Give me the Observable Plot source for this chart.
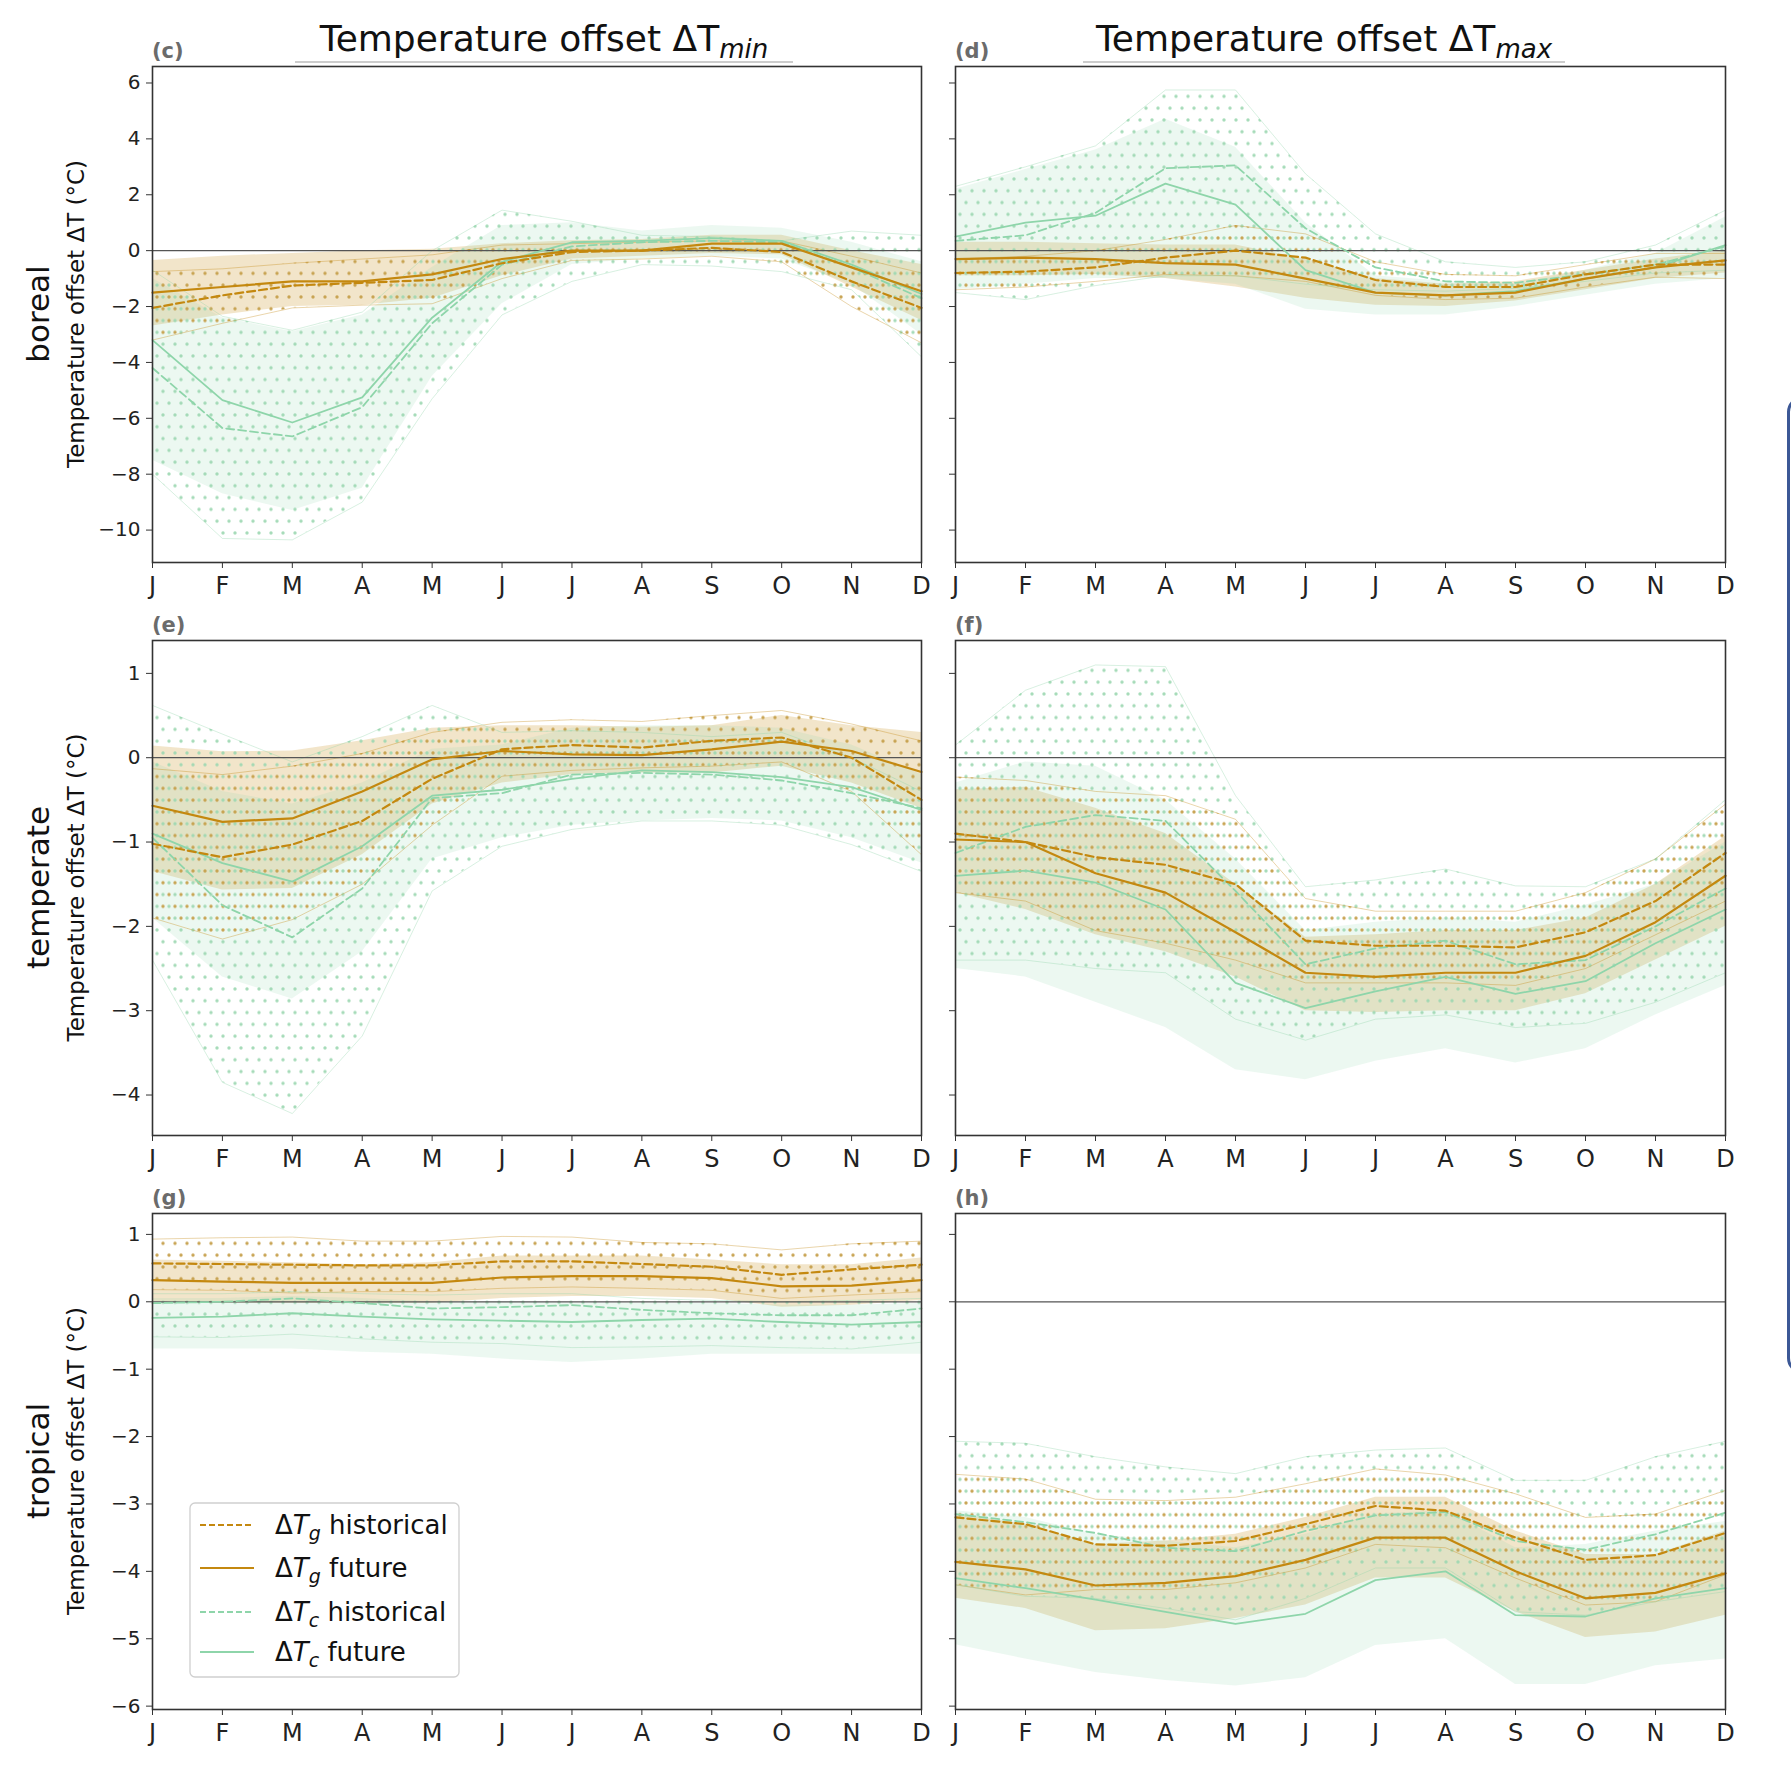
<!DOCTYPE html>
<html>
<head>
<meta charset="utf-8">
<script src="https://cdn.jsdelivr.net/npm/d3@7"></script>
<script src="https://cdn.jsdelivr.net/npm/@observablehq/plot@0.6"></script>
<style>
  html, body { margin: 0; padding: 0; background: #fff; }
  body { width: 1791px; height: 1770px; position: relative; overflow: hidden; font-family: "DejaVu Sans", sans-serif; }
  .panel { position: absolute; }
  #overlay { position: absolute; left: 0; top: 0; pointer-events: none; }
  #blueedge { position: absolute; left: 1787px; top: 396px; width: 60px; height: 972px; border: 3px solid #3c5896; border-radius: 16px; }
</style>
</head>
<body>
<svg width="0" height="0" style="position:absolute">
  <defs>
    <pattern id="dotB" patternUnits="userSpaceOnUse" width="12" height="23.6">
      <circle cx="3" cy="3" r="1.7" fill="#c6a04c" fill-opacity="0.95"/>
      <circle cx="9" cy="14.8" r="1.7" fill="#c6a04c" fill-opacity="0.95"/>
    </pattern>
    <pattern id="dotG" patternUnits="userSpaceOnUse" width="12" height="23.6">
      <circle cx="9" cy="3" r="1.7" fill="#9dd8b2" fill-opacity="0.9"/>
      <circle cx="3" cy="14.8" r="1.7" fill="#9dd8b2" fill-opacity="0.9"/>
    </pattern>
  </defs>
</svg>
<div id="blueedge"></div>
<div id="root"></div>
<script>
const months = ["J","F","M","A","M","J","J","A","S","O","N","D"];

// ---- panel (c): boreal, ΔTmin ----
const c_tg_hist    = [-2.05,-1.6,-1.25,-1.15,-1.05,-0.45,-0.05,0.0,0.1,-0.05,-1.1,-2.05];
const c_tg_hist_lo = [-3.2,-2.6,-2.05,-1.95,-1.9,-1.0,-0.35,-0.3,-0.2,-0.4,-2.0,-3.3];
const c_tg_hist_hi = [-0.75,-0.65,-0.45,-0.3,-0.15,0.2,0.25,0.3,0.35,0.35,-0.2,-0.8];
const c_tg_fut     = [-1.5,-1.3,-1.1,-1.1,-0.85,-0.3,0.0,0.0,0.25,0.25,-0.6,-1.45];
const c_tg_fut_lo  = [-2.7,-2.3,-2.0,-1.95,-1.7,-0.9,-0.3,-0.2,-0.1,-0.15,-1.3,-2.5];
const c_tg_fut_hi  = [-0.35,-0.2,-0.1,0.0,0.05,0.25,0.35,0.4,0.55,0.55,0.0,-0.5];
const c_tc_hist    = [-4.2,-6.35,-6.65,-5.6,-2.6,-0.5,0.15,0.3,0.35,0.3,-0.6,-1.7];
const c_tc_hist_lo = [-8.0,-10.3,-10.35,-9.0,-5.3,-2.3,-1.1,-0.5,-0.55,-0.75,-1.4,-3.8];
const c_tc_hist_hi = [-0.7,-2.35,-2.85,-2.2,0.0,1.45,1.05,0.55,0.5,0.35,0.7,0.55];
const c_tc_fut     = [-3.2,-5.35,-6.15,-5.25,-2.4,-0.4,0.3,0.35,0.45,0.35,-0.5,-1.55];
const c_tc_fut_lo  = [-7.5,-8.7,-9.3,-8.5,-4.5,-1.9,-0.5,-0.3,-0.2,-0.3,-1.2,-3.0];
const c_tc_fut_hi  = [-1.0,-2.4,-2.9,-2.3,-0.6,0.9,1.0,0.7,0.9,0.8,0.3,-0.4];

// ---- panel (d): boreal, ΔTmax ----
const d_tg_hist    = [-0.8,-0.75,-0.6,-0.25,0.0,-0.25,-1.05,-1.3,-1.3,-0.85,-0.5,-0.5];
const d_tg_hist_lo = [-1.4,-1.3,-1.1,-0.85,-0.9,-1.1,-1.6,-1.75,-1.7,-1.3,-0.95,-1.0];
const d_tg_hist_hi = [-0.3,-0.2,0.0,0.4,0.9,0.6,-0.4,-0.85,-0.9,-0.5,-0.1,-0.1];
const d_tg_fut     = [-0.3,-0.25,-0.3,-0.45,-0.5,-1.0,-1.5,-1.6,-1.5,-1.0,-0.6,-0.35];
const d_tg_fut_lo  = [-0.9,-0.9,-0.85,-1.0,-1.3,-1.7,-1.95,-2.0,-1.8,-1.4,-1.0,-0.8];
const d_tg_fut_hi  = [0.3,0.3,0.25,0.2,0.2,-0.3,-1.0,-1.2,-1.1,-0.7,-0.3,0.0];
const d_tc_hist    = [0.35,0.55,1.35,2.95,3.05,0.8,-0.6,-1.1,-1.15,-0.85,-0.5,0.15];
const d_tc_hist_lo = [-1.5,-1.75,-1.25,-0.9,-0.9,-1.2,-1.4,-1.45,-1.35,-1.1,-0.8,-0.7];
const d_tc_hist_hi = [2.3,3.0,3.75,5.75,5.75,2.75,0.6,-0.4,-0.6,-0.4,0.2,1.45];
const d_tc_fut     = [0.5,1.0,1.25,2.4,1.65,-0.7,-1.5,-1.6,-1.45,-1.0,-0.6,0.2];
const d_tc_fut_lo  = [-1.4,-1.2,-1.0,-1.0,-1.2,-2.1,-2.3,-2.3,-2.0,-1.6,-1.2,-1.0];
const d_tc_fut_hi  = [2.2,2.9,3.6,4.7,3.7,1.0,-0.9,-1.1,-1.2,-0.7,-0.1,1.2];

// ---- panel (e): temperate, ΔTmin ----
const e_tg_hist    = [-1.02,-1.18,-1.03,-0.75,-0.25,0.1,0.15,0.12,0.2,0.24,0.0,-0.5];
const e_tg_hist_lo = [-1.9,-2.15,-1.92,-1.5,-0.8,-0.22,-0.15,-0.12,-0.1,-0.05,-0.4,-1.15];
const e_tg_hist_hi = [-0.13,-0.2,-0.1,0.05,0.3,0.42,0.45,0.43,0.5,0.56,0.4,0.2];
const e_tg_fut     = [-0.57,-0.76,-0.72,-0.4,-0.02,0.08,0.04,0.03,0.1,0.19,0.08,-0.17];
const e_tg_fut_lo  = [-1.35,-1.57,-1.55,-1.15,-0.55,-0.3,-0.2,-0.18,-0.18,-0.1,-0.3,-0.6];
const e_tg_fut_hi  = [0.14,0.07,0.08,0.2,0.35,0.38,0.38,0.36,0.38,0.5,0.38,0.3];
const e_tc_hist    = [-0.95,-1.75,-2.13,-1.55,-0.48,-0.42,-0.2,-0.18,-0.2,-0.27,-0.42,-0.6];
const e_tc_hist_lo = [-2.4,-3.85,-4.22,-3.3,-1.58,-1.05,-0.85,-0.75,-0.75,-0.8,-1.03,-1.35];
const e_tc_hist_hi = [0.62,0.28,-0.05,0.25,0.62,0.3,0.32,0.3,0.25,0.3,0.0,-0.4];
const e_tc_fut     = [-0.9,-1.25,-1.47,-1.05,-0.45,-0.38,-0.25,-0.15,-0.17,-0.23,-0.35,-0.62];
const e_tc_fut_lo  = [-1.9,-2.6,-2.86,-2.3,-1.2,-0.95,-0.8,-0.75,-0.72,-0.75,-0.95,-1.25];
const e_tc_fut_hi  = [-0.05,-0.4,-0.55,-0.3,0.1,0.15,0.35,0.38,0.38,0.35,0.15,-0.2];

// ---- panel (f): temperate, ΔTmax ----
const f_tg_hist    = [-0.9,-1.0,-1.18,-1.27,-1.5,-2.17,-2.23,-2.23,-2.25,-2.07,-1.7,-1.13];
const f_tg_hist_lo = [-1.6,-1.7,-2.05,-2.2,-2.4,-2.67,-2.67,-2.67,-2.7,-2.5,-2.1,-1.7];
const f_tg_hist_hi = [-0.23,-0.27,-0.4,-0.45,-0.73,-1.67,-1.82,-1.82,-1.82,-1.6,-1.2,-0.55];
const f_tg_fut     = [-0.97,-1.0,-1.37,-1.6,-2.07,-2.55,-2.6,-2.55,-2.55,-2.35,-1.95,-1.4];
const f_tg_fut_lo  = [-1.6,-1.8,-2.1,-2.3,-2.6,-3.0,-3.02,-3.0,-3.0,-2.8,-2.4,-2.0];
const f_tg_fut_hi  = [-0.38,-0.35,-0.6,-0.9,-1.5,-2.13,-2.1,-2.05,-2.05,-1.9,-1.5,-0.93];
const f_tc_hist    = [-1.13,-0.82,-0.68,-0.75,-1.58,-2.45,-2.26,-2.17,-2.45,-2.4,-2.0,-1.55];
const f_tc_hist_lo = [-2.4,-2.4,-2.5,-2.55,-3.1,-3.35,-3.1,-3.05,-3.2,-3.15,-2.9,-2.55];
const f_tc_hist_hi = [0.15,0.8,1.1,1.08,-0.45,-1.53,-1.45,-1.32,-1.52,-1.53,-1.2,-0.5];
const f_tc_fut     = [-1.4,-1.34,-1.48,-1.8,-2.67,-2.97,-2.77,-2.6,-2.8,-2.65,-2.2,-1.8];
const f_tc_fut_lo  = [-2.5,-2.6,-2.9,-3.2,-3.7,-3.82,-3.6,-3.45,-3.62,-3.45,-3.05,-2.7];
const f_tc_fut_hi  = [-0.3,-0.05,-0.1,-0.5,-1.2,-2.05,-1.95,-1.9,-1.95,-1.75,-1.5,-1.0];

// ---- panel (g): tropical, ΔTmin ----
const g_tg_hist    = [0.57,0.56,0.55,0.54,0.54,0.6,0.6,0.56,0.52,0.4,0.48,0.55];
const g_tg_hist_lo = [0.18,0.17,0.13,0.15,0.15,0.2,0.22,0.2,0.17,0.05,0.1,0.15];
const g_tg_hist_hi = [0.93,0.95,0.96,0.9,0.9,0.97,0.96,0.88,0.86,0.77,0.86,0.9];
const g_tg_fut     = [0.32,0.3,0.28,0.28,0.28,0.36,0.38,0.38,0.35,0.23,0.24,0.32];
const g_tg_fut_lo  = [0.0,-0.02,-0.02,-0.03,-0.02,0.05,0.08,0.08,0.05,-0.08,-0.05,0.02];
const g_tg_fut_hi  = [0.62,0.6,0.58,0.55,0.58,0.68,0.68,0.68,0.62,0.55,0.55,0.65];
const g_tc_hist    = [-0.02,0.0,0.05,-0.02,-0.1,-0.08,-0.05,-0.12,-0.17,-0.2,-0.2,-0.1];
const g_tc_hist_lo = [-0.52,-0.53,-0.48,-0.55,-0.6,-0.62,-0.68,-0.67,-0.65,-0.68,-0.7,-0.6];
const g_tc_hist_hi = [0.12,0.12,0.15,0.12,0.1,0.12,0.12,0.05,0.02,0.0,0.02,0.05];
const g_tc_fut     = [-0.24,-0.22,-0.17,-0.22,-0.26,-0.28,-0.3,-0.27,-0.25,-0.3,-0.34,-0.3];
const g_tc_fut_lo  = [-0.7,-0.7,-0.7,-0.75,-0.78,-0.85,-0.9,-0.85,-0.78,-0.78,-0.78,-0.78];
const g_tc_fut_hi  = [0.05,0.05,0.08,0.05,0.0,0.0,-0.02,-0.02,-0.02,-0.05,-0.05,-0.02];

// ---- panel (h): tropical, ΔTmax ----
const h_tg_hist    = [-3.2,-3.3,-3.6,-3.62,-3.55,-3.3,-3.03,-3.1,-3.5,-3.83,-3.76,-3.43];
const h_tg_hist_lo = [-4.2,-4.35,-4.27,-4.27,-4.17,-3.95,-3.6,-3.65,-4.1,-4.5,-4.45,-4.05];
const h_tg_hist_hi = [-2.56,-2.63,-2.93,-2.95,-2.9,-2.7,-2.48,-2.57,-2.85,-3.2,-3.15,-2.8];
const h_tg_fut     = [-3.86,-3.97,-4.21,-4.17,-4.07,-3.83,-3.5,-3.5,-4.0,-4.4,-4.32,-4.03];
const h_tg_fut_lo  = [-4.4,-4.55,-4.88,-4.85,-4.7,-4.5,-4.1,-4.1,-4.6,-4.98,-4.9,-4.65];
const h_tg_fut_hi  = [-3.15,-3.3,-3.6,-3.55,-3.45,-3.2,-2.9,-2.9,-3.4,-3.75,-3.75,-3.4];
const h_tc_hist    = [-3.15,-3.27,-3.43,-3.65,-3.7,-3.4,-3.17,-3.12,-3.55,-3.68,-3.45,-3.13];
const h_tc_hist_lo = [-4.2,-4.37,-4.4,-4.55,-4.72,-4.4,-3.95,-3.95,-4.6,-4.65,-4.45,-4.3];
const h_tc_hist_hi = [-2.07,-2.1,-2.3,-2.45,-2.55,-2.3,-2.2,-2.17,-2.65,-2.65,-2.3,-2.07];
const h_tc_fut     = [-4.1,-4.25,-4.42,-4.6,-4.78,-4.63,-4.13,-4.0,-4.65,-4.67,-4.4,-4.25];
const h_tc_fut_lo  = [-5.09,-5.3,-5.5,-5.62,-5.7,-5.58,-5.1,-5.0,-5.68,-5.68,-5.4,-5.3];
const h_tc_fut_hi  = [-3.1,-3.2,-3.45,-3.55,-3.65,-3.45,-3.15,-3.1,-3.65,-3.6,-3.4,-3.26];

// y ticks / domains per row
const row_ydomain = [[-11.16, 6.59], [-4.48, 1.39], [-6.05, 1.31]];
const row_yticks = [[-10,-8,-6,-4,-2,0,2,4,6], [-4,-3,-2,-1,0,1], [-6,-5,-4,-3,-2,-1,0,1]];
const row_names = ["boreal", "temperate", "tropical"];
const panel_letters = ["(c)","(d)","(e)","(f)","(g)","(h)"];
const legend_labels = [["g","historical"],["g","future"],["c","historical"],["c","future"]];

const BROWN = "#c4880f", GREEN = "#8ed5aa";

// layout (frame positions)
const colLeft = [152, 955], colWidth = [769, 770];
const rowTop = [66, 640, 1213], rowHeight = [496, 495, 496];
const ML = 70, MR = 16, MT = 8, MB = 48;

const panels = [
  {row:0,col:0, s:[c_tg_hist,c_tg_hist_lo,c_tg_hist_hi,c_tg_fut,c_tg_fut_lo,c_tg_fut_hi,c_tc_hist,c_tc_hist_lo,c_tc_hist_hi,c_tc_fut,c_tc_fut_lo,c_tc_fut_hi]},
  {row:0,col:1, s:[d_tg_hist,d_tg_hist_lo,d_tg_hist_hi,d_tg_fut,d_tg_fut_lo,d_tg_fut_hi,d_tc_hist,d_tc_hist_lo,d_tc_hist_hi,d_tc_fut,d_tc_fut_lo,d_tc_fut_hi]},
  {row:1,col:0, s:[e_tg_hist,e_tg_hist_lo,e_tg_hist_hi,e_tg_fut,e_tg_fut_lo,e_tg_fut_hi,e_tc_hist,e_tc_hist_lo,e_tc_hist_hi,e_tc_fut,e_tc_fut_lo,e_tc_fut_hi]},
  {row:1,col:1, s:[f_tg_hist,f_tg_hist_lo,f_tg_hist_hi,f_tg_fut,f_tg_fut_lo,f_tg_fut_hi,f_tc_hist,f_tc_hist_lo,f_tc_hist_hi,f_tc_fut,f_tc_fut_lo,f_tc_fut_hi]},
  {row:2,col:0, s:[g_tg_hist,g_tg_hist_lo,g_tg_hist_hi,g_tg_fut,g_tg_fut_lo,g_tg_fut_hi,g_tc_hist,g_tc_hist_lo,g_tc_hist_hi,g_tc_fut,g_tc_fut_lo,g_tc_fut_hi]},
  {row:2,col:1, s:[h_tg_hist,h_tg_hist_lo,h_tg_hist_hi,h_tg_fut,h_tg_fut_lo,h_tg_fut_hi,h_tc_hist,h_tc_hist_lo,h_tc_hist_hi,h_tc_fut,h_tc_fut_lo,h_tc_fut_hi]}
];

function rowsOf(mid, lo, hi) {
  return months.map((m, i) => ({i, mid: mid[i], lo: lo[i], hi: hi[i]}));
}
const fmt = d => d < 0 ? "\u2212" + (-d) : String(d);

const root = document.getElementById("root");
panels.forEach(p => {
  const [a,b,c,d,e,f,g,h,i,j,k,l] = p.s;
  const tgH = rowsOf(a,b,c), tgF = rowsOf(d,e,f), tcH = rowsOf(g,h,i), tcF = rowsOf(j,k,l);
  const w = colWidth[p.col], hgt = rowHeight[p.row];
  const chart = Plot.plot({
    width: w + ML + MR,
    height: hgt + MT + MB,
    marginLeft: ML, marginRight: MR, marginTop: MT, marginBottom: MB,
    x: {domain: [0, 11]},
    y: {domain: row_ydomain[p.row]},
    style: {fontFamily: "DejaVu Sans, sans-serif", fontSize: "20px", color: "#222", background: "transparent", overflow: "visible"},
    marks: [
      Plot.areaY(tgF, {x: "i", y1: "lo", y2: "hi", fill: BROWN, fillOpacity: 0.22, clip: true}),
      Plot.areaY(tcF, {x: "i", y1: "lo", y2: "hi", fill: GREEN, fillOpacity: 0.17, clip: true}),
      Plot.areaY(tgH, {x: "i", y1: "lo", y2: "hi", fill: "url(#dotB)", clip: true}),
      Plot.areaY(tcH, {x: "i", y1: "lo", y2: "hi", fill: "url(#dotG)", clip: true}),
      Plot.lineY(tgH, {x: "i", y: "lo", stroke: BROWN, strokeOpacity: 0.35, strokeWidth: 1, clip: true}),
      Plot.lineY(tgH, {x: "i", y: "hi", stroke: BROWN, strokeOpacity: 0.35, strokeWidth: 1, clip: true}),
      Plot.lineY(tcH, {x: "i", y: "lo", stroke: GREEN, strokeOpacity: 0.35, strokeWidth: 1, clip: true}),
      Plot.lineY(tcH, {x: "i", y: "hi", stroke: GREEN, strokeOpacity: 0.35, strokeWidth: 1, clip: true}),
      Plot.ruleY([0], {stroke: "#555", strokeWidth: 1.3}),
      Plot.lineY(tcH, {x: "i", y: "mid", stroke: GREEN, strokeWidth: 1.8, strokeDasharray: "8,4"}),
      Plot.lineY(tcF, {x: "i", y: "mid", stroke: GREEN, strokeWidth: 1.8}),
      Plot.lineY(tgH, {x: "i", y: "mid", stroke: BROWN, strokeWidth: 2.2, strokeDasharray: "8,4"}),
      Plot.lineY(tgF, {x: "i", y: "mid", stroke: BROWN, strokeWidth: 2.2}),
      Plot.frame({stroke: "#333", strokeWidth: 1.6}),
      Plot.axisX({ticks: d3.range(12), tickFormat: t => months[t], tickSize: 6, tickPadding: 8, label: null, stroke: "#333", fontSize: 24}),
      Plot.axisY({ticks: row_yticks[p.row], tickFormat: p.col === 0 ? fmt : () => "", tickSize: 6, tickPadding: 6, label: null, stroke: "#333", fontSize: 20})
    ]
  });
  const div = document.createElement("div");
  div.className = "panel";
  div.style.left = (colLeft[p.col] - ML) + "px";
  div.style.top = (rowTop[p.row] - MT) + "px";
  div.appendChild(chart);
  root.appendChild(div);
});

// ---- overlay texts: titles, panel letters, row labels, y labels, legend ----
const ov = d3.select("body").append("svg").attr("id", "overlay").attr("width", 1791).attr("height", 1770)
  .style("font-family", "DejaVu Sans, sans-serif");

const titles = [{x: 544, sub: "min", l: 295, r: 793}, {x: 1324, sub: "max", l: 1083, r: 1565}];
titles.forEach(t => {
  const tx = ov.append("text").attr("x", t.x).attr("y", 51).attr("text-anchor", "middle")
    .attr("font-size", 36).attr("fill", "#111");
  tx.append("tspan").text("Temperature offset \u0394T");
  tx.append("tspan").attr("font-style", "italic").attr("font-size", 26).attr("dy", 7).text(t.sub);
  ov.append("line").attr("x1", t.l).attr("x2", t.r).attr("y1", 62).attr("y2", 62)
    .attr("stroke", "#9a9a9a").attr("stroke-width", 1.2);
});

panels.forEach((p, idx) => {
  ov.append("text").attr("x", colLeft[p.col]).attr("y", rowTop[p.row] - 8)
    .attr("font-size", 21).attr("font-weight", "bold").attr("fill", "#6b6b6b").text(panel_letters[idx]);
});

row_names.forEach((name, r) => {
  const cy = rowTop[r] + rowHeight[r] / 2;
  ov.append("text").attr("transform", `translate(49,${cy}) rotate(-90)`).attr("text-anchor", "middle")
    .attr("font-size", 31).attr("fill", "#111").text(name);
  ov.append("text").attr("transform", `translate(84,${cy}) rotate(-90)`).attr("text-anchor", "middle")
    .attr("font-size", 23).attr("fill", "#111").text("Temperature offset \u0394T (\u00b0C)");
});

// legend in panel (g)
const lg = ov.append("g");
lg.append("rect").attr("x", 190).attr("y", 1503).attr("width", 269).attr("height", 174).attr("rx", 5)
  .attr("fill", "#fff").attr("fill-opacity", 0.85).attr("stroke", "#cfcfcf").attr("stroke-width", 1.3);
const legY = [1525, 1568, 1612, 1652];
legend_labels.forEach((lab, i) => {
  const col = lab[0] === "g" ? BROWN : GREEN;
  lg.append("line").attr("x1", 200).attr("x2", 254).attr("y1", legY[i]).attr("y2", legY[i])
    .attr("stroke", col).attr("stroke-width", lab[0] === "g" ? 2 : 1.8)
    .attr("stroke-dasharray", lab[1] === "historical" ? "6,3" : null);
  const t = lg.append("text").attr("x", 275).attr("y", legY[i] + 9).attr("font-size", 26).attr("fill", "#111");
  t.append("tspan").text("\u0394");
  t.append("tspan").attr("font-style", "italic").text("T");
  t.append("tspan").attr("font-style", "italic").attr("font-size", 19).attr("dy", 6).text(lab[0]);
  t.append("tspan").attr("dy", -6).text(" " + lab[1]);
});
</script>
</body>
</html>
